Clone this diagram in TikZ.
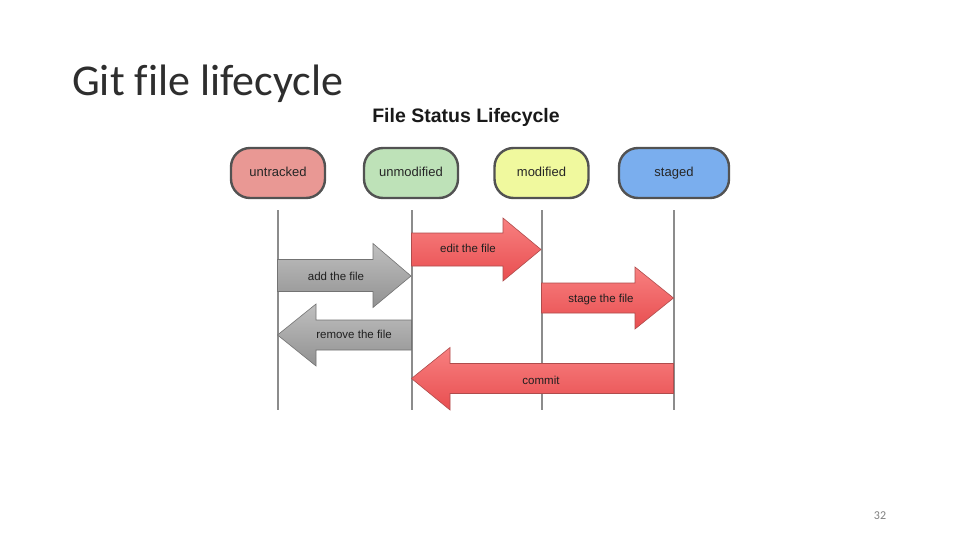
\documentclass[tikz,border=0pt]{standalone}
\usepackage{fontspec}
\setmainfont{Liberation Sans}
\newfontfamily\slidefont[Ligatures=NoCommon]{Carlito}
\begin{document}
\begin{tikzpicture}[x=1pt,y=-1pt,
  pill/.style={draw=black!68, line width=2.4pt, rounded corners=19pt,
    minimum width=94pt, minimum height=50pt, inner sep=0pt,
    text height=9.5pt, text depth=3pt,
    font=\fontsize{13}{15}\selectfont, text=black!85},
  vline/.style={draw=black!45, line width=2pt},
  redarrow/.style={draw=red!55!black!70, line width=0.6pt,
    top color={rgb,255:red,248;green,128;blue,128}, bottom color={rgb,255:red,232;green,78;blue,80}},
  grayarrow/.style={draw=black!55, line width=0.6pt,
    top color=black!25, bottom color=black!43},
  lbl/.style={font=\fontsize{11.5}{13}\selectfont, text=black!88, inner sep=0pt,
    text height=8.5pt, text depth=2.5pt}]
\useasboundingbox[fill=white] (0,0) rectangle (960,540);

% titles
\node[anchor=base west, inner sep=0pt, font=\slidefont\fontsize{44}{50}\selectfont, text=black!82] (title) at (72,96) {Git file lifecycle};
\node[anchor=base, inner sep=0pt, font=\bfseries\fontsize{19.5}{22}\selectfont, text=black!90] (sub) at (466,123) {File Status Lifecycle};
\node[anchor=base, inner sep=0pt, font=\slidefont\fontsize{12}{14}\selectfont, text=black!50] (page) at (880,519) {32};

% states
\node[pill, fill={rgb,255:red,233;green,152;blue,148}] (untr) at (278,173) {untracked};
\node[pill, fill={rgb,255:red,190;green,226;blue,184}] (unmod) at (411,173) {unmodified};
\node[pill, fill={rgb,255:red,240;green,249;blue,158}] (mod) at (541.5,173) {modified};
\node[pill, fill={rgb,255:red,122;green,174;blue,238}, minimum width=110pt] (stg) at (674,173) {staged};

% lifelines
\coordinate (l1t) at (277.5,210); \coordinate (l1b) at (277.5,410);
\coordinate (l2t) at (411.5,210); \coordinate (l2b) at (411.5,410);
\coordinate (l3t) at (541.5,210); \coordinate (l3b) at (541.5,410);
\coordinate (l4t) at (673.5,210); \coordinate (l4b) at (673.5,410);
\draw[vline] (l1t) -- (l1b);
\draw[vline] (l2t) -- (l2b);
\draw[vline] (l3t) -- (l3b);
\draw[vline] (l4t) -- (l4b);

% edit the file (unmodified -> modified)
\path[redarrow] (411.5,233) -- (503,233) -- (503,218) -- (541,249.5) -- (503,281) -- (503,266) -- (411.5,266) -- cycle;
\node[lbl] (edit) at (468,249) {edit the file};

% add the file (untracked -> unmodified)
\path[grayarrow] (277.5,259.5) -- (373,259.5) -- (373,243.5) -- (411,276) -- (373,307.5) -- (373,291.5) -- (277.5,291.5) -- cycle;
\node[lbl] (add) at (336,277) {add the file};

% stage the file (modified -> staged)
\path[redarrow] (541.5,283) -- (635,283) -- (635,267) -- (673.5,298) -- (635,329) -- (635,313) -- (541.5,313) -- cycle;
\node[lbl] (stage) at (601,299) {stage the file};

% remove the file (unmodified -> untracked)
\path[grayarrow] (411.5,320) -- (316,320) -- (316,304) -- (277.5,335) -- (316,366) -- (316,350) -- (411.5,350) -- cycle;
\node[lbl] (rem) at (354,335) {remove the file};

% commit (staged -> unmodified)
\path[redarrow] (673.5,363.5) -- (450,363.5) -- (450,347.5) -- (411.5,378.5) -- (450,410) -- (450,393.5) -- (673.5,393.5) -- cycle;
\node[lbl] (commit) at (541,381) {commit};
\end{tikzpicture}
\end{document}
